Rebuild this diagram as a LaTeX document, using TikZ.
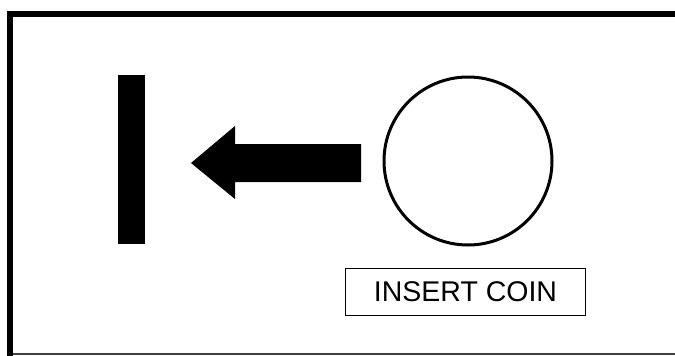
\documentclass[tikz,border=0pt]{standalone}
\usepackage{fontspec}
\setmainfont{Liberation Sans}
\begin{document}
\begin{tikzpicture}[x=1pt,y=-1pt,
  framethick/.style={line width=6pt},
  slot/.style={fill=black,draw=none,inner sep=0pt,minimum width=27pt,minimum height=169pt},
  coin/.style={circle,draw=black,line width=3pt,minimum size=168pt,inner sep=0pt},
  label/.style={draw=black,line width=1.8pt,minimum width=240pt,minimum height=47pt,inner sep=0pt,font=\fontsize{28.5}{30}\selectfont}]
\useasboundingbox (0,0) rectangle (675,356);
% frame
\draw[framethick] (675,14) -- (10,14) -- (10,356);
\draw[line width=1.2pt,black!75] (13,354) -- (675,354);
% slot bar
\node[slot] (bar) at (131.5,159.5) {};
% arrow
\fill (191,163) -- (235,126) -- (235,144) -- (361,144) -- (361,182) -- (235,182) -- (235,199) -- cycle;
% coin
\node[coin] (c) at (468,161) {};
% label
\node[label] (lab) at (465.5,292) {INSERT COIN};
\end{tikzpicture}
\end{document}
